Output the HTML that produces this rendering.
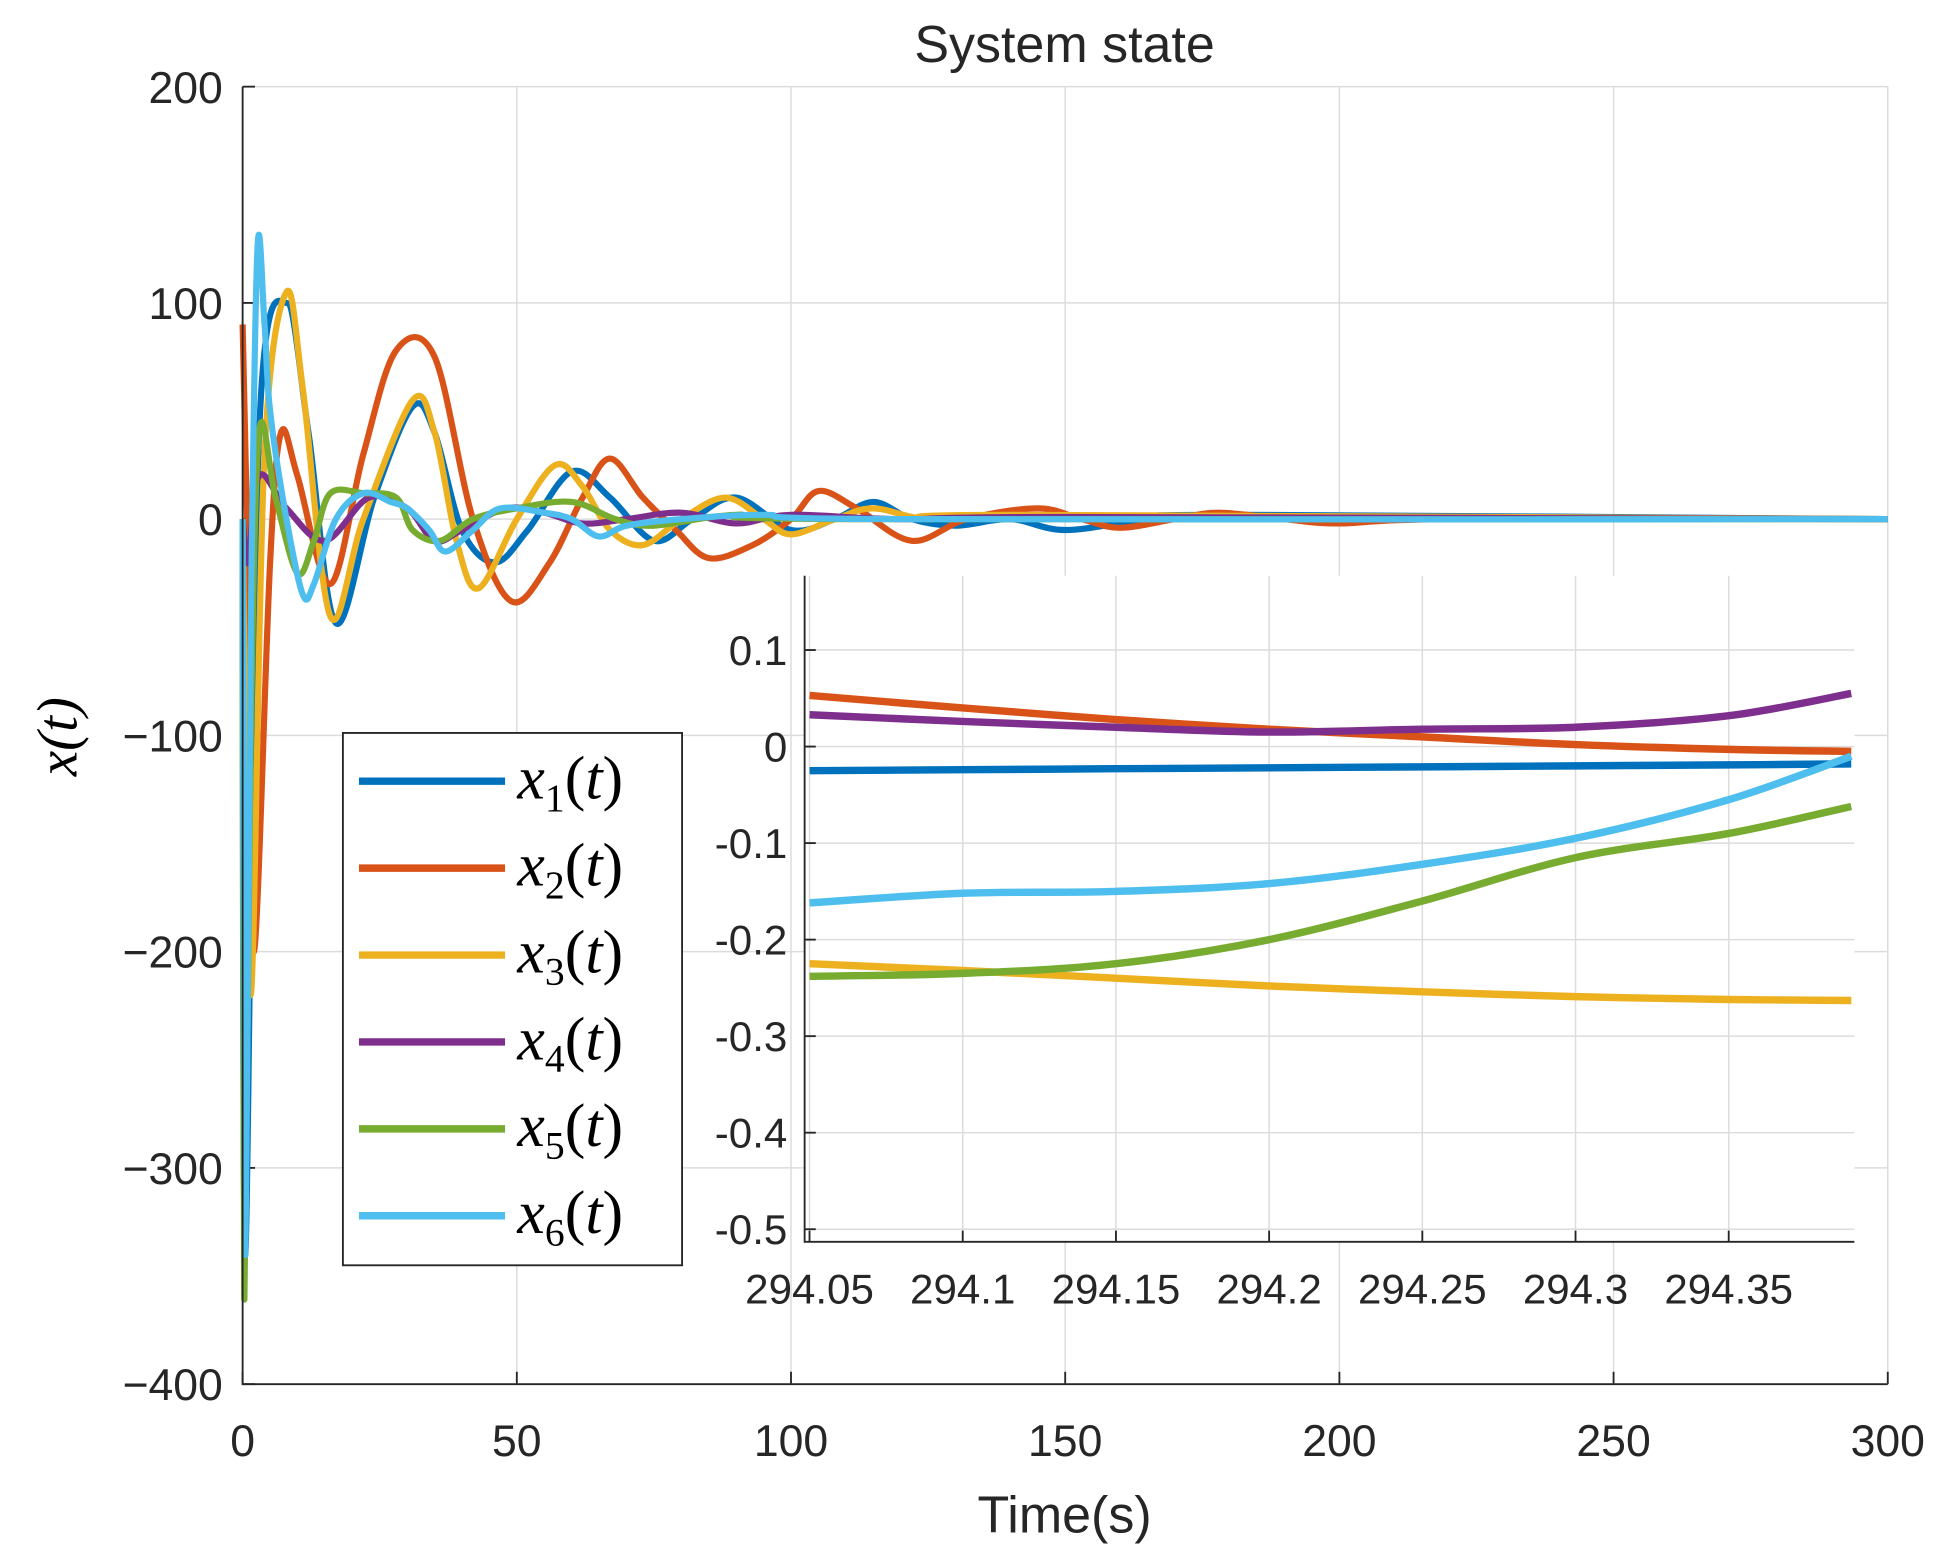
<!DOCTYPE html>
<html><head><meta charset="utf-8"><style>
html,body{margin:0;padding:0;background:#fff}
svg{display:block}
text{font-family:"Liberation Sans",sans-serif;fill:#262626}
text.math{font-family:"Liberation Serif",serif;font-style:italic;fill:#000}
</style></head><body>
<svg id="chart" width="1941" height="1555" viewBox="0 0 1568 1256" preserveAspectRatio="none" xmlns="http://www.w3.org/2000/svg">
<rect width="1568" height="1256" fill="#fff"/>
<g id="main"></g>
<g id="inset"></g>
<g id="legend"></g>
</svg>
<script>
const NS="http://www.w3.org/2000/svg";
const colors=["#0072BD","#D95319","#EDB120","#7E2F8E","#77AC30","#4DBEEE"];
const seriesNames=["x1","x2","x3","x4","x5","x6"];
// main chart data (time, value) per series
const mainT1=[0,0.5,3,8,12,17,24,31,35,40,46,52,60,67,75,82,90,100,108,115,122,130,140,150,165,180,300];
const mainV1=[0,-340,40,100,40,-48,10,52,40,-5,-20,-5,22,10,-10,0,10,-5,0,8,0,-3,0,-5,0,2,0];
const mainT2=[0,0.8,2,5,7,10,16,22,28,35,42,49,56,62,67,73,79,85,93,100,105,112,122,132,145,153,160,170,178,190,200,220,300];
const mainV2=[90,0,-200,-20,40,20,-30,30,78,75,0,-38,-20,10,28,10,-5,-18,-12,0,13,5,-10,0,5,0,-4,0,3,0,-2,0,0];
const mainT3=[0,1.5,4,8,11,16,22,31,35,39,43,50,57,62,67,73,80,88,95,100,108,115,125,140,300];
const mainV3=[0,-220,30,105,60,-45,0,55,40,-10,-32,0,25,15,-5,-12,0,10,0,-7,0,5,0,2,0];
const mainT4=[0,1,3,8,15,23,30,35,40,48,55,62,70,80,90,100,120,150,300];
const mainV4=[0,-20,20,5,-10,10,5,-10,-5,5,3,-2,0,3,-2,2,0,1,0];
const mainT5=[0,0.3,1.5,3,6,10,13,16,22,28,31,36,42,50,60,68,75,90,110,300];
const mainV5=[0,-360,-100,40,10,-25,-10,12,12,10,-5,-10,0,5,8,0,-3,2,0,0];
const mainT6=[0,0.5,1.5,2.7,4,5,8,11,13,17,22,27,30,34,37,42,47,55,60,65,70,80,95,120,300];
const mainV6=[0,-340,-50,125,90,50,0,-35,-30,0,12,8,5,-5,-15,-5,5,3,0,-8,-3,0,2,0,0];
const mainX=[mainT1,mainT2,mainT3,mainT4,mainT5,mainT6];
const mainY=[mainV1,mainV2,mainV3,mainV4,mainV5,mainV6];
const mainXTicks=[0,50,100,150,200,250,300];
const mainYTicks=[200,100,0,-100,-200,-300,-400];
const mainYLabels=["200","100","0","\u2212100","\u2212200","\u2212300","\u2212400"];
// inset data
const insetT=[294.05,294.10,294.15,294.20,294.25,294.30,294.35,294.39];
const inset1=[-0.025,-0.024,-0.023,-0.022,-0.021,-0.020,-0.019,-0.018];
const inset2=[0.053,0.040,0.028,0.018,0.010,0.002,-0.003,-0.005];
const inset3=[-0.225,-0.232,-0.240,-0.248,-0.254,-0.259,-0.262,-0.263];
const inset4=[0.033,0.026,0.020,0.015,0.018,0.020,0.032,0.055];
const inset5=[-0.238,-0.235,-0.225,-0.200,-0.160,-0.115,-0.090,-0.062];
const inset6=[-0.162,-0.152,-0.150,-0.142,-0.122,-0.095,-0.055,-0.010];
const insetY=[inset1,inset2,inset3,inset4,inset5,inset6];
const insetXTicks=[294.05,294.1,294.15,294.2,294.25,294.3,294.35];
const insetXLabels=["294.05","294.1","294.15","294.2","294.25","294.3","294.35"];
const insetYTicks=[0.1,0,-0.1,-0.2,-0.3,-0.4,-0.5];
const insetYLabels=["0.1","0","-0.1","-0.2","-0.3","-0.4","-0.5"];

function el(tag,attrs,parent,txt){const e=document.createElementNS(NS,tag);for(const k in attrs)e.setAttribute(k,attrs[k]);if(txt!==undefined)e.textContent=txt;parent.appendChild(e);return e;}
function smooth(p){
  let d='M'+p[0][0].toFixed(1)+','+p[0][1].toFixed(1);
  for(let i=0;i<p.length-1;i++){
    const p0=p[i-1]||p[i],p1=p[i],p2=p[i+1],p3=p[i+2]||p2;
    const c1x=p1[0]+(p2[0]-p0[0])/6,c1y=p1[1]+(p2[1]-p0[1])/6;
    const c2x=p2[0]-(p3[0]-p1[0])/6,c2y=p2[1]-(p3[1]-p1[1])/6;
    d+=`C${c1x.toFixed(1)},${c1y.toFixed(1)} ${c2x.toFixed(1)},${c2y.toFixed(1)} ${p2[0].toFixed(1)},${p2[1].toFixed(1)}`;
  }
  return d;
}

// main axes
const M={l:196,r:1525,t:70,b:1118,x0:0,x1:300,y0:-400,y1:200};
const mx=v=>M.l+(v-M.x0)/(M.x1-M.x0)*(M.r-M.l);
const my=v=>M.b-(v-M.y0)/(M.y1-M.y0)*(M.b-M.t);
const gm=document.getElementById('main');
mainXTicks.forEach((v,i)=>{
  const g=el('line',{x1:mx(v),x2:mx(v),y1:M.t,y2:M.b,stroke:'#dcdcdc','stroke-width':1.2},gm);
  
  
  const t=el('text',{x:mx(v),y:M.b+58,'font-size':36,'text-anchor':'middle'},gm,String(v));
  
  
  el('line',{x1:mx(v),x2:mx(v),y1:M.b,y2:M.b-10,stroke:'#262626','stroke-width':1.5},gm);
});
mainYTicks.forEach((v,i)=>{
  const g=el('line',{x1:M.l,x2:M.r,y1:my(v),y2:my(v),stroke:'#dcdcdc','stroke-width':1.2},gm);
  
  
  const t=el('text',{x:M.l-16,y:my(v)+13,'font-size':36,'text-anchor':'end'},gm,mainYLabels[i]);
  
  
  el('line',{x1:M.l,x2:M.l+10,y1:my(v),y2:my(v),stroke:'#262626','stroke-width':1.5},gm);
});
mainX.forEach((ts,s)=>{
  const pts=ts.map((t,i)=>[mx(t),my(mainY[s][i])]);
  const p=el('path',{d:smooth(pts),fill:'none',stroke:colors[s],'stroke-width':5,'stroke-linejoin':'round'},gm);
  
  
});
const ax=el('path',{d:`M${M.l},${M.t}V${M.b}H${M.r}`,fill:'none',stroke:'#262626','stroke-width':1.5},gm);


const tt=el('text',{x:860,y:50,'font-size':42,'text-anchor':'middle',fill:'#000'},gm,'System state');


const xt=el('text',{x:860,y:1238,'font-size':42,'text-anchor':'middle'},gm,'Time(s)');


const yt=el('text',{x:0,y:0,'font-size':46,'text-anchor':'middle',class:'math',transform:'translate(62,595) rotate(-90)'},gm,'x(t)');



// inset
const I={l:650,r:1498,t:465,b:1003,x0:294.0484,x1:294.391,y0:-0.513,y1:0.177};
const ix=v=>I.l+(v-I.x0)/(I.x1-I.x0)*(I.r-I.l);
const iy=v=>I.b-(v-I.y0)/(I.y1-I.y0)*(I.b-I.t);
const gi=document.getElementById('inset');
const bg=el('rect',{x:I.l,y:I.t,width:I.r-I.l,height:I.b-I.t,fill:'#fff'},gi);


insetXTicks.forEach((v,i)=>{
  el('line',{x1:ix(v),x2:ix(v),y1:I.t,y2:I.b,stroke:'#dcdcdc','stroke-width':1.2},gi);
  const t=el('text',{x:ix(v),y:I.b+50,'font-size':34,'text-anchor':'middle'},gi,insetXLabels[i]);
  
  
  el('line',{x1:ix(v),x2:ix(v),y1:I.b,y2:I.b-9,stroke:'#262626','stroke-width':1.5},gi);
});
insetYTicks.forEach((v,i)=>{
  el('line',{x1:I.l,x2:I.r,y1:iy(v),y2:iy(v),stroke:'#dcdcdc','stroke-width':1.2},gi);
  const t=el('text',{x:I.l-14,y:iy(v)+12,'font-size':34,'text-anchor':'end'},gi,insetYLabels[i]);
  
  
  el('line',{x1:I.l,x2:I.l+9,y1:iy(v),y2:iy(v),stroke:'#262626','stroke-width':1.5},gi);
});
insetY.forEach((vals,s)=>{
  const pts=insetT.map((t,i)=>[ix(t),iy(vals[i])]);
  const p=el('path',{d:smooth(pts),fill:'none',stroke:colors[s],'stroke-width':6,'stroke-linejoin':'round'},gi);
  
  
});
const iax=el('path',{d:`M${I.l},${I.t}V${I.b}H${I.r}`,fill:'none',stroke:'#262626','stroke-width':1.5},gi);



// legend
const gl=document.getElementById('legend');
const lb=el('rect',{x:277,y:592,width:274,height:430,fill:'#fff',stroke:'#262626','stroke-width':1.5},gl);


seriesNames.forEach((n,s)=>{
  const y=631+s*70.2;
  const l=el('line',{x1:290,x2:408,y1:y,y2:y,stroke:colors[s],'stroke-width':6},gl);
  
  
  const t=el('text',{x:418,y:y+14,'font-size':50,class:'math'},gl);
  
  
  t.innerHTML='x<tspan font-size="32" style="font-style:normal" dy="10">'+(s+1)+'</tspan><tspan dy="-10" style="font-style:normal">(</tspan>t<tspan style="font-style:normal">)</tspan>';
});
</script>
</body></html>
